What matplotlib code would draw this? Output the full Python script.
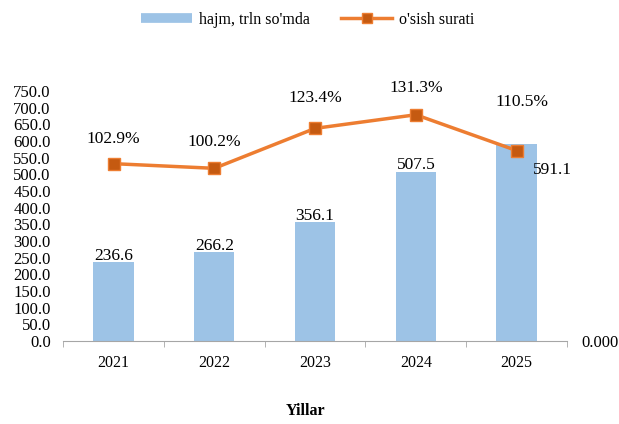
import matplotlib
matplotlib.use("Agg")
from matplotlib import pyplot as plt
from matplotlib.lines import Line2D
from matplotlib.ticker import FormatStrFormatter, FixedLocator
import numpy as np

years = ["2021", "2022", "2023", "2024", "2025"]
volume = [236.6, 266.2, 356.1, 507.5, 591.1]
growth = [102.9, 100.2, 123.4, 131.3, 110.5]
growth_labels = ["102.9%", "100.2%", "123.4%", "131.3%", "110.5%"]

BAR_COLOR = "#9DC3E6"
LINE_COLOR = "#ED7D31"
MARKER_COLOR = "#C55A11"
AXIS_COLOR = "#A6A6A6"

plt.rcParams["font.family"] = ["Liberation Serif", "DejaVu Serif"]

fig = plt.figure(figsize=(6.19, 4.24), dpi=100)
ax = fig.add_axes([0.102, 0.196, 0.814, 0.589])
x = np.arange(len(years))

ax.bar(x, volume, width=0.4, color=BAR_COLOR, zorder=2)
ax.set_xlim(-0.5, len(years) - 0.5)
ax.set_ylim(0, 750)
ax.set_yticks(np.arange(0, 751, 50))
ax.yaxis.set_major_formatter(FormatStrFormatter("%.1f"))
ax.tick_params(axis="y", length=0, pad=9, labelsize=12)

ax.set_xticks(x)
ax.set_xticklabels(years)
ax.xaxis.set_minor_locator(FixedLocator(np.arange(-0.5, len(years), 1.0)))
ax.tick_params(axis="x", which="major", length=0, pad=10, labelsize=11.5)
ax.tick_params(axis="x", which="minor", length=4, color=AXIS_COLOR)

for s in ["left", "right", "top"]:
    ax.spines[s].set_visible(False)
ax.spines["bottom"].set_color(AXIS_COLOR)

for i, v in enumerate(volume):
    if i == len(volume) - 1:
        ax.annotate(f"{v:.1f}", (x[i], v), xytext=(26, -19), textcoords="offset points",
                    ha="center", va="center", fontsize=12.5)
    else:
        ax.annotate(f"{v:.1f}", (x[i], v), xytext=(0, -1), textcoords="offset points",
                    ha="center", va="bottom", fontsize=12.5)

ax2 = ax.twinx()
ax2.set_ylim(0, 145)
ax2.plot(x, growth, color=LINE_COLOR, lw=2.5, marker="s", markersize=8.5,
         markerfacecolor=MARKER_COLOR, markeredgecolor=LINE_COLOR, markeredgewidth=1, zorder=3)
ax2.set_yticks([0])
ax2.yaxis.set_major_formatter(FormatStrFormatter("%.3f"))
ax2.tick_params(axis="y", length=0, pad=10, labelsize=12)
for s in ["left", "right", "top", "bottom"]:
    ax2.spines[s].set_visible(False)

label_offsets = [(0, 18), (0, 19), (0, 22), (0, 19), (4, 35)]
for i, g in enumerate(growth):
    ax2.annotate(growth_labels[i], (x[i], g), xytext=label_offsets[i], textcoords="offset points",
                 ha="center", va="center", fontsize=12.5)

fig.text(0.494, 0.03, "Yillar", fontsize=11.5, fontweight="bold", ha="center", va="center")

handles = [Line2D([0], [0], color=BAR_COLOR, lw=7, solid_capstyle="butt"),
           Line2D([0], [0], color=LINE_COLOR, lw=2.5, marker="s", markersize=7,
                  markerfacecolor=MARKER_COLOR, markeredgecolor=LINE_COLOR)]
fig.legend(handles, ["hajm, trln so'mda", "o'sish surati"], loc="center",
           bbox_to_anchor=(0.497, 0.953), ncol=2, frameon=False, fontsize=11.5,
           handlelength=3.2, handletextpad=0.4, columnspacing=2.0)

fig.savefig("out.png", dpi=100)
